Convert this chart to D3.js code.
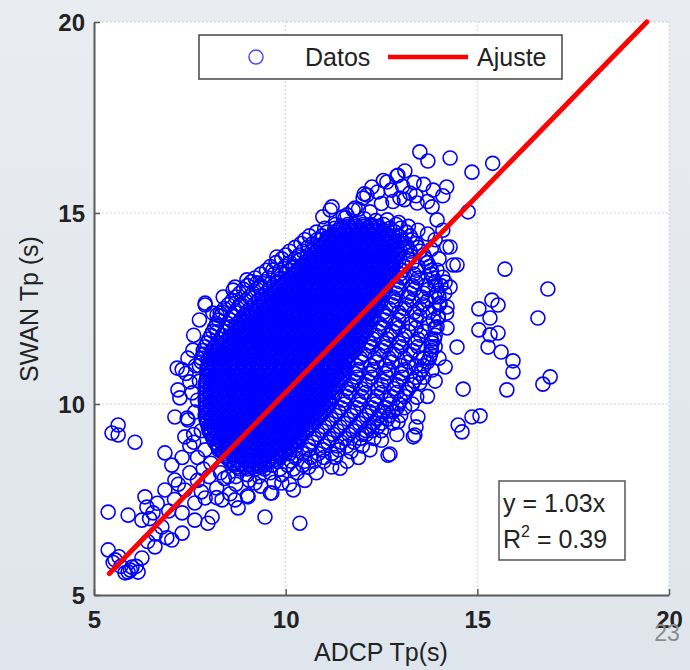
<!DOCTYPE html>
<html><head><meta charset="utf-8">
<script src="https://cdn.jsdelivr.net/npm/d3@7"></script>
<style>html,body{margin:0;padding:0;background:#e4e8ed;} svg{display:block;}</style>
</head><body>
<svg id="c" width="690" height="670"></svg>
<script>
// ---- data ----
const xTicks = [5, 10, 15, 20];
const yTicks = [5, 10, 15, 20];
const pendiente = 1.03;            // y = 1.03x
const ajusteX = [5.4, 19.42];      // extent of fitted line
const r2 = 0.39;

// dense core: each row = [SWAN Tp, ADCP Tp values...]
const nucleo = [
[14.7, 11.3, 11.62, 11.8, 12.01, 12.22, 12.55, 12.88],
[14.6, 11.02, 11.28, 11.5, 11.71, 11.9, 12.12, 12.3, 12.46, 12.72, 13.0],
[14.5, 10.8, 11.08, 11.32, 11.52, 11.7, 11.93, 12.1, 12.31, 12.52, 12.85, 13.15],
[14.4, 10.62, 10.95, 11.22, 11.41, 11.6, 11.82, 12.0, 12.2, 12.41, 12.6, 12.95, 13.25],
[14.3, 10.5, 10.82, 11.12, 11.3, 11.51, 11.72, 11.9, 12.1, 12.31, 12.5, 12.72, 13.02, 13.3],
[14.2, 10.4, 10.7, 11.0, 11.21, 11.42, 11.6, 11.8, 12.02, 12.21, 12.4, 12.62, 12.83, 13.12, 13.4],
[14.1, 10.25, 10.58, 10.92, 11.1, 11.3, 11.52, 11.7, 11.91, 12.12, 12.3, 12.5, 12.71, 12.9, 13.18, 13.45],
[14.0, 10.1, 10.45, 10.8, 11.0, 11.22, 11.41, 11.6, 11.8, 12.02, 12.2, 12.42, 12.61, 12.8, 13.0, 13.25, 13.5],
[13.9, 10.0, 10.35, 10.72, 10.92, 11.1, 11.32, 11.5, 11.71, 11.9, 12.11, 12.3, 12.52, 12.7, 12.92, 13.25, 13.6],
[13.8, 9.9, 10.25, 10.62, 10.81, 11.0, 11.2, 11.42, 11.6, 11.81, 12.0, 12.2, 12.41, 12.6, 12.82, 13.2, 13.65],
[13.7, 9.75, 10.12, 10.52, 10.72, 10.9, 11.11, 11.3, 11.52, 11.7, 11.9, 12.12, 12.31, 12.5, 12.71, 12.88, 13.3, 13.7],
[13.6, 9.6, 9.98, 10.25, 10.42, 10.61, 10.8, 11.02, 11.2, 11.41, 11.6, 11.82, 12.0, 12.21, 12.4, 12.62, 12.8, 13.12, 13.45, 13.75],
[13.5, 9.5, 9.85, 10.1, 10.35, 10.52, 10.71, 10.9, 11.12, 11.3, 11.5, 11.71, 11.9, 12.1, 12.32, 12.5, 12.72, 13.05, 13.42, 13.8],
[13.4, 9.35, 9.7, 10.0, 10.22, 10.41, 10.6, 10.82, 11.0, 11.21, 11.4, 11.6, 11.82, 12.0, 12.2, 12.41, 12.62, 12.98, 13.35, 13.8],
[13.3, 9.2, 9.55, 9.88, 10.12, 10.3, 10.51, 10.7, 10.92, 11.1, 11.3, 11.52, 11.7, 11.91, 12.1, 12.3, 12.52, 12.68, 13.05, 13.45, 13.85],
[13.2, 9.1, 9.45, 9.78, 10.02, 10.2, 10.41, 10.6, 10.8, 11.02, 11.21, 11.4, 11.6, 11.81, 12.0, 12.22, 12.42, 12.62, 12.98, 13.4, 13.9],
[13.1, 9.0, 9.35, 9.68, 9.92, 10.1, 10.3, 10.51, 10.7, 10.9, 11.12, 11.3, 11.5, 11.71, 11.9, 12.1, 12.32, 12.52, 12.9, 13.3, 13.65, 13.9],
[13.0, 8.9, 9.25, 9.58, 9.82, 10.0, 10.21, 10.4, 10.6, 10.82, 11.0, 11.2, 11.42, 11.6, 11.8, 12.01, 12.2, 12.42, 12.6, 12.95, 13.35, 13.72],
[12.9, 8.8, 9.15, 9.48, 9.72, 9.9, 10.11, 10.3, 10.5, 10.71, 10.9, 11.1, 11.32, 11.5, 11.7, 11.92, 12.1, 12.31, 12.52, 12.88, 13.25, 13.6, 13.95],
[12.8, 8.7, 9.05, 9.38, 9.62, 9.8, 10.0, 10.21, 10.4, 10.6, 10.82, 11.0, 11.2, 11.41, 11.6, 11.8, 12.02, 12.2, 12.42, 12.8, 13.18, 13.55, 14.0],
[12.7, 8.6, 8.95, 9.28, 9.52, 9.7, 9.91, 10.1, 10.3, 10.52, 10.7, 10.9, 11.11, 11.3, 11.5, 11.72, 11.9, 12.1, 12.32, 12.5, 12.88, 13.3, 13.7],
[12.6, 8.5, 8.85, 9.18, 9.42, 9.6, 9.8, 10.01, 10.2, 10.41, 10.6, 10.8, 11.02, 11.2, 11.4, 11.61, 11.8, 12.0, 12.22, 12.42, 12.78, 13.15, 13.58, 14.0],
[12.5, 8.4, 8.75, 9.08, 9.32, 9.5, 9.71, 9.9, 10.1, 10.31, 10.5, 10.7, 10.92, 11.1, 11.3, 11.51, 11.7, 11.9, 12.12, 12.35, 12.7, 13.1, 13.5, 13.9],
[12.4, 8.35, 8.68, 8.98, 9.22, 9.4, 9.61, 9.8, 10.0, 10.21, 10.4, 10.6, 10.81, 11.0, 11.2, 11.42, 11.6, 11.8, 12.01, 12.2, 12.55, 12.95, 13.35, 13.75],
[12.3, 8.3, 8.6, 8.9, 9.12, 9.3, 9.5, 9.71, 9.9, 10.1, 10.32, 10.5, 10.7, 10.91, 11.1, 11.3, 11.52, 11.7, 11.9, 12.11, 12.3, 12.65, 13.05, 13.5, 13.98],
[12.2, 8.25, 8.55, 8.82, 9.02, 9.2, 9.41, 9.6, 9.8, 10.01, 10.2, 10.4, 10.6, 10.81, 11.0, 11.2, 11.41, 11.6, 11.8, 12.02, 12.22, 12.58, 12.95, 13.4, 13.85],
[12.1, 8.2, 8.5, 8.75, 8.92, 9.1, 9.3, 9.51, 9.7, 9.9, 10.11, 10.3, 10.5, 10.71, 10.9, 11.1, 11.32, 11.5, 11.7, 11.91, 12.1, 12.45, 12.85, 13.25, 13.7],
[12.0, 8.15, 8.45, 8.68, 8.82, 9.0, 9.2, 9.41, 9.6, 9.8, 10.0, 10.21, 10.4, 10.6, 10.81, 11.0, 11.2, 11.41, 11.6, 11.8, 12.0, 12.18, 12.55, 12.95, 13.4, 13.9],
[11.9, 8.1, 8.42, 8.72, 8.9, 9.1, 9.31, 9.5, 9.7, 9.91, 10.1, 10.3, 10.5, 10.71, 10.9, 11.1, 11.31, 11.5, 11.7, 11.9, 12.1, 12.42, 12.8, 13.2, 13.62],
[11.8, 8.05, 8.35, 8.62, 8.8, 9.0, 9.21, 9.4, 9.6, 9.8, 10.01, 10.2, 10.4, 10.61, 10.8, 11.0, 11.2, 11.41, 11.6, 11.8, 12.0, 12.35, 12.72, 13.1, 13.52, 13.9],
[11.7, 8.0, 8.3, 8.52, 8.7, 8.9, 9.11, 9.3, 9.5, 9.7, 9.91, 10.1, 10.3, 10.51, 10.7, 10.9, 11.1, 11.31, 11.5, 11.7, 11.9, 12.28, 12.65, 13.05, 13.45, 13.88],
[11.6, 7.95, 8.22, 8.42, 8.6, 8.8, 9.01, 9.2, 9.4, 9.6, 9.81, 10.0, 10.2, 10.41, 10.6, 10.8, 11.0, 11.21, 11.4, 11.6, 11.8, 12.18, 12.55, 12.95, 13.38, 13.82],
[11.5, 7.9, 8.15, 8.35, 8.52, 8.7, 8.91, 9.1, 9.3, 9.5, 9.71, 9.9, 10.1, 10.31, 10.5, 10.7, 10.9, 11.11, 11.3, 11.5, 11.7, 11.88, 12.25, 12.62, 13.02, 13.45, 13.8],
[11.4, 7.85, 8.08, 8.25, 8.42, 8.6, 8.81, 9.0, 9.2, 9.4, 9.61, 9.8, 10.0, 10.21, 10.4, 10.6, 10.8, 11.01, 11.2, 11.4, 11.6, 11.8, 12.15, 12.52, 12.9, 13.32, 13.8],
[11.3, 7.85, 8.12, 8.32, 8.5, 8.71, 8.9, 9.1, 9.3, 9.51, 9.7, 9.9, 10.11, 10.3, 10.5, 10.7, 10.91, 11.1, 11.3, 11.5, 11.7, 12.05, 12.42, 12.82, 13.25, 13.78],
[11.2, 7.8, 8.05, 8.22, 8.4, 8.61, 8.8, 9.0, 9.2, 9.41, 9.6, 9.8, 10.01, 10.2, 10.4, 10.6, 10.81, 11.0, 11.2, 11.4, 11.6, 11.95, 12.32, 12.7, 13.1, 13.5, 13.75],
[11.1, 7.8, 8.02, 8.2, 8.4, 8.6, 8.8, 9.01, 9.2, 9.4, 9.61, 9.8, 10.0, 10.2, 10.41, 10.6, 10.8, 11.01, 11.2, 11.4, 11.62, 11.98, 12.38, 12.78, 13.2, 13.7],
[11.0, 7.75, 7.98, 8.12, 8.3, 8.5, 8.71, 8.9, 9.1, 9.3, 9.51, 9.7, 9.9, 10.1, 10.31, 10.5, 10.7, 10.9, 11.11, 11.3, 11.5, 11.85, 12.22, 12.6, 13.0, 13.4, 13.6],
[10.9, 7.95, 8.1, 8.3, 8.51, 8.7, 8.9, 9.1, 9.31, 9.5, 9.7, 9.9, 10.11, 10.3, 10.5, 10.7, 10.91, 11.1, 11.3, 11.5, 11.9, 12.3, 12.7, 13.12, 13.55],
[10.8, 7.98, 8.2, 8.4, 8.61, 8.8, 9.0, 9.2, 9.41, 9.6, 9.8, 10.0, 10.21, 10.4, 10.6, 10.8, 11.01, 11.2, 11.4, 11.55, 11.82, 12.2, 12.6, 13.02, 13.5],
[10.7, 7.95, 8.1, 8.3, 8.5, 8.71, 8.9, 9.1, 9.3, 9.51, 9.7, 9.9, 10.1, 10.31, 10.5, 10.7, 10.9, 11.11, 11.3, 11.5, 11.85, 12.25, 12.65, 13.05, 13.4],
[10.6, 7.92, 8.2, 8.4, 8.6, 8.81, 9.0, 9.2, 9.4, 9.61, 9.8, 10.0, 10.2, 10.41, 10.6, 10.8, 11.0, 11.21, 11.42, 11.78, 12.15, 12.55, 12.95, 13.35],
[10.5, 7.9, 8.1, 8.3, 8.5, 8.7, 8.91, 9.1, 9.3, 9.5, 9.71, 9.9, 10.1, 10.3, 10.51, 10.7, 10.9, 11.1, 11.32, 11.7, 12.08, 12.5, 12.9, 13.3],
[10.4, 7.92, 8.2, 8.4, 8.6, 8.8, 9.01, 9.2, 9.4, 9.6, 9.81, 10.0, 10.2, 10.4, 10.61, 10.8, 11.0, 11.22, 11.6, 11.98, 12.4, 12.82, 13.2],
[10.3, 7.9, 8.1, 8.3, 8.5, 8.7, 8.9, 9.11, 9.3, 9.5, 9.7, 9.91, 10.1, 10.3, 10.5, 10.71, 10.9, 11.12, 11.3, 11.68, 12.08, 12.5, 12.9, 13.15],
[10.2, 7.92, 8.2, 8.4, 8.6, 8.8, 9.0, 9.21, 9.4, 9.6, 9.8, 10.01, 10.2, 10.4, 10.6, 10.81, 11.0, 11.22, 11.58, 11.98, 12.38, 12.75, 13.1],
[10.1, 7.9, 8.1, 8.3, 8.5, 8.7, 8.9, 9.1, 9.31, 9.5, 9.7, 9.9, 10.11, 10.3, 10.5, 10.7, 10.91, 11.12, 11.5, 11.9, 12.3, 12.68, 13.0],
[10.0, 7.92, 8.2, 8.4, 8.6, 8.8, 9.0, 9.2, 9.41, 9.6, 9.8, 10.0, 10.21, 10.4, 10.6, 10.8, 11.0, 11.15, 11.55, 11.95, 12.35, 12.72, 12.95],
[9.9, 7.9, 8.1, 8.3, 8.5, 8.7, 8.9, 9.1, 9.3, 9.51, 9.7, 9.9, 10.1, 10.31, 10.5, 10.7, 10.9, 11.08, 11.45, 11.85, 12.25, 12.62, 12.9],
[9.8, 7.92, 8.2, 8.4, 8.6, 8.8, 9.0, 9.2, 9.4, 9.61, 9.8, 10.0, 10.2, 10.41, 10.6, 10.8, 11.0, 11.38, 11.78, 12.18, 12.55, 12.8],
[9.7, 7.9, 8.1, 8.3, 8.5, 8.7, 8.9, 9.1, 9.3, 9.5, 9.71, 9.9, 10.1, 10.3, 10.51, 10.7, 10.92, 11.3, 11.7, 12.1, 12.45, 12.7],
[9.6, 7.92, 8.2, 8.4, 8.6, 8.8, 9.0, 9.2, 9.4, 9.6, 9.81, 10.0, 10.2, 10.4, 10.6, 10.82, 11.2, 11.62, 12.0, 12.38, 12.65],
[9.5, 7.95, 8.12, 8.3, 8.5, 8.7, 8.9, 9.1, 9.3, 9.5, 9.7, 9.91, 10.1, 10.3, 10.5, 10.75, 11.12, 11.52, 11.92, 12.3, 12.5],
[9.4, 7.98, 8.2, 8.4, 8.6, 8.8, 9.0, 9.2, 9.4, 9.6, 9.8, 10.01, 10.2, 10.4, 10.62, 11.02, 11.42, 11.82, 12.18, 12.4],
[9.3, 8.0, 8.15, 8.3, 8.5, 8.7, 8.9, 9.1, 9.3, 9.5, 9.7, 9.9, 10.11, 10.3, 10.55, 10.95, 11.35, 11.75, 12.1, 12.25],
[9.2, 8.05, 8.22, 8.4, 8.6, 8.8, 9.0, 9.2, 9.4, 9.6, 9.8, 10.0, 10.2, 10.45, 10.85, 11.25, 11.65, 12.0, 12.1],
[9.1, 8.1, 8.3, 8.5, 8.7, 8.9, 9.1, 9.3, 9.5, 9.7, 9.9, 10.1, 10.35, 10.75, 11.15, 11.55, 11.95],
[9.0, 8.15, 8.4, 8.6, 8.8, 9.0, 9.2, 9.4, 9.6, 9.8, 10.0, 10.2, 10.32, 10.7, 11.1, 11.45, 11.78],
[8.9, 8.22, 8.5, 8.7, 8.9, 9.1, 9.3, 9.5, 9.7, 9.9, 10.1, 10.28, 10.6, 11.0, 11.35, 11.6],
[8.8, 8.25, 8.45, 8.65, 8.85, 9.05, 9.25, 9.45, 9.65, 9.85, 10.05, 10.22, 10.6, 10.98, 11.38],
[8.7, 8.38, 8.6, 8.8, 9.0, 9.2, 9.4, 9.6, 9.8, 10.0, 10.1, 10.45, 10.85, 11.2],
[8.6, 8.45, 8.65, 8.85, 9.05, 9.25, 9.45, 9.65, 9.85, 10.25, 10.65, 11.0],
[8.5, 8.55, 8.75, 8.95, 9.15, 9.35, 9.55, 9.78, 10.15, 10.5, 10.75],
[8.4, 8.65, 8.85, 9.05, 9.25, 9.45, 9.65, 10.05, 10.45],
[8.3, 8.8, 9.0, 9.2, 9.45, 9.85, 10.2]
];

// second, interleaved layer of the dense core (same format)
const nucleo2 = [
[14.65, 11.45, 11.65, 11.85, 12.05, 12.25, 12.42],
[14.55, 11.35, 11.55, 11.75, 11.95, 12.15, 12.35, 12.55],
[14.45, 11.25, 11.45, 11.65, 11.85, 12.05, 12.25, 12.45, 12.65],
[14.35, 11.15, 11.35, 11.55, 11.75, 11.95, 12.15, 12.35, 12.55, 12.75],
[14.25, 11.05, 11.25, 11.45, 11.65, 11.85, 12.05, 12.25, 12.45, 12.65, 12.85],
[14.15, 10.95, 11.15, 11.35, 11.55, 11.75, 11.95, 12.15, 12.35, 12.55, 12.75, 12.92],
[14.05, 10.85, 11.05, 11.25, 11.45, 11.65, 11.85, 12.05, 12.25, 12.45, 12.65, 12.85],
[13.95, 10.75, 10.95, 11.15, 11.35, 11.55, 11.75, 11.95, 12.15, 12.35, 12.55, 12.75, 12.95],
[13.85, 10.65, 10.85, 11.05, 11.25, 11.45, 11.65, 11.85, 12.05, 12.25, 12.45, 12.65, 12.85],
[13.75, 10.55, 10.75, 10.95, 11.15, 11.35, 11.55, 11.75, 11.95, 12.15, 12.35, 12.55, 12.75],
[13.65, 10.45, 10.65, 10.85, 11.05, 11.25, 11.45, 11.65, 11.85, 12.05, 12.25, 12.45, 12.65, 12.8],
[13.55, 10.35, 10.55, 10.75, 10.95, 11.15, 11.35, 11.55, 11.75, 11.95, 12.15, 12.35, 12.55, 12.75],
[13.45, 10.25, 10.45, 10.65, 10.85, 11.05, 11.25, 11.45, 11.65, 11.85, 12.05, 12.25, 12.45, 12.65],
[13.35, 10.15, 10.35, 10.55, 10.75, 10.95, 11.15, 11.35, 11.55, 11.75, 11.95, 12.15, 12.35, 12.55],
[13.25, 10.05, 10.25, 10.45, 10.65, 10.85, 11.05, 11.25, 11.45, 11.65, 11.85, 12.05, 12.25, 12.45, 12.62],
[13.15, 9.95, 10.15, 10.35, 10.55, 10.75, 10.95, 11.15, 11.35, 11.55, 11.75, 11.95, 12.15, 12.35, 12.55],
[13.05, 9.85, 10.05, 10.25, 10.45, 10.65, 10.85, 11.05, 11.25, 11.45, 11.65, 11.85, 12.05, 12.25, 12.45],
[12.95, 9.75, 9.95, 10.15, 10.35, 10.55, 10.75, 10.95, 11.15, 11.35, 11.55, 11.75, 11.95, 12.15, 12.35, 12.55],
[12.85, 9.65, 9.85, 10.05, 10.25, 10.45, 10.65, 10.85, 11.05, 11.25, 11.45, 11.65, 11.85, 12.05, 12.25, 12.45],
[12.75, 9.55, 9.75, 9.95, 10.15, 10.35, 10.55, 10.75, 10.95, 11.15, 11.35, 11.55, 11.75, 11.95, 12.15, 12.35],
[12.65, 9.45, 9.65, 9.85, 10.05, 10.25, 10.45, 10.65, 10.85, 11.05, 11.25, 11.45, 11.65, 11.85, 12.05, 12.25, 12.42],
[12.55, 9.35, 9.55, 9.75, 9.95, 10.15, 10.35, 10.55, 10.75, 10.95, 11.15, 11.35, 11.55, 11.75, 11.95, 12.15, 12.35],
[12.45, 9.25, 9.45, 9.65, 9.85, 10.05, 10.25, 10.45, 10.65, 10.85, 11.05, 11.25, 11.45, 11.65, 11.85, 12.05, 12.25],
[12.35, 9.15, 9.35, 9.55, 9.75, 9.95, 10.15, 10.35, 10.55, 10.75, 10.95, 11.15, 11.35, 11.55, 11.75, 11.95, 12.15],
[12.25, 9.05, 9.25, 9.45, 9.65, 9.85, 10.05, 10.25, 10.45, 10.65, 10.85, 11.05, 11.25, 11.45, 11.65, 11.85, 12.05, 12.22],
[12.15, 8.95, 9.15, 9.35, 9.55, 9.75, 9.95, 10.15, 10.35, 10.55, 10.75, 10.95, 11.15, 11.35, 11.55, 11.75, 11.95, 12.15],
[12.05, 8.85, 9.05, 9.25, 9.45, 9.65, 9.85, 10.05, 10.25, 10.45, 10.65, 10.85, 11.05, 11.25, 11.45, 11.65, 11.85, 12.05],
[11.95, 8.75, 8.95, 9.15, 9.35, 9.55, 9.75, 9.95, 10.15, 10.35, 10.55, 10.75, 10.95, 11.15, 11.35, 11.55, 11.75, 11.95],
[11.85, 8.65, 8.85, 9.05, 9.25, 9.45, 9.65, 9.85, 10.05, 10.25, 10.45, 10.65, 10.85, 11.05, 11.25, 11.45, 11.65, 11.85, 12.02],
[11.75, 8.55, 8.75, 8.95, 9.15, 9.35, 9.55, 9.75, 9.95, 10.15, 10.35, 10.55, 10.75, 10.95, 11.15, 11.35, 11.55, 11.75, 11.95],
[11.65, 8.45, 8.65, 8.85, 9.05, 9.25, 9.45, 9.65, 9.85, 10.05, 10.25, 10.45, 10.65, 10.85, 11.05, 11.25, 11.45, 11.65, 11.85],
[11.55, 8.35, 8.55, 8.75, 8.95, 9.15, 9.35, 9.55, 9.75, 9.95, 10.15, 10.35, 10.55, 10.75, 10.95, 11.15, 11.35, 11.55, 11.75],
[11.45, 8.25, 8.45, 8.65, 8.85, 9.05, 9.25, 9.45, 9.65, 9.85, 10.05, 10.25, 10.45, 10.65, 10.85, 11.05, 11.25, 11.45, 11.65, 11.82],
[11.35, 8.15, 8.35, 8.55, 8.75, 8.95, 9.15, 9.35, 9.55, 9.75, 9.95, 10.15, 10.35, 10.55, 10.75, 10.95, 11.15, 11.35, 11.55, 11.75],
[11.25, 8.05, 8.25, 8.45, 8.65, 8.85, 9.05, 9.25, 9.45, 9.65, 9.85, 10.05, 10.25, 10.45, 10.65, 10.85, 11.05, 11.25, 11.45, 11.65],
[11.15, 7.98, 8.15, 8.35, 8.55, 8.75, 8.95, 9.15, 9.35, 9.55, 9.75, 9.95, 10.15, 10.35, 10.55, 10.75, 10.95, 11.15, 11.35, 11.55],
[11.05, 8.05, 8.25, 8.45, 8.65, 8.85, 9.05, 9.25, 9.45, 9.65, 9.85, 10.05, 10.25, 10.45, 10.65, 10.85, 11.05, 11.25, 11.45, 11.62],
[10.95, 7.95, 8.15, 8.35, 8.55, 8.75, 8.95, 9.15, 9.35, 9.55, 9.75, 9.95, 10.15, 10.35, 10.55, 10.75, 10.95, 11.15, 11.35, 11.55],
[10.85, 8.05, 8.25, 8.45, 8.65, 8.85, 9.05, 9.25, 9.45, 9.65, 9.85, 10.05, 10.25, 10.45, 10.65, 10.85, 11.05, 11.25, 11.45],
[10.75, 7.95, 8.15, 8.35, 8.55, 8.75, 8.95, 9.15, 9.35, 9.55, 9.75, 9.95, 10.15, 10.35, 10.55, 10.75, 10.95, 11.15, 11.35],
[10.65, 8.05, 8.25, 8.45, 8.65, 8.85, 9.05, 9.25, 9.45, 9.65, 9.85, 10.05, 10.25, 10.45, 10.65, 10.85, 11.05, 11.25, 11.42],
[10.55, 7.95, 8.15, 8.35, 8.55, 8.75, 8.95, 9.15, 9.35, 9.55, 9.75, 9.95, 10.15, 10.35, 10.55, 10.75, 10.95, 11.15, 11.35],
[10.45, 8.05, 8.25, 8.45, 8.65, 8.85, 9.05, 9.25, 9.45, 9.65, 9.85, 10.05, 10.25, 10.45, 10.65, 10.85, 11.05, 11.25],
[10.35, 7.95, 8.15, 8.35, 8.55, 8.75, 8.95, 9.15, 9.35, 9.55, 9.75, 9.95, 10.15, 10.35, 10.55, 10.75, 10.95, 11.15],
[10.25, 8.05, 8.25, 8.45, 8.65, 8.85, 9.05, 9.25, 9.45, 9.65, 9.85, 10.05, 10.25, 10.45, 10.65, 10.85, 11.05],
[10.15, 7.95, 8.15, 8.35, 8.55, 8.75, 8.95, 9.15, 9.35, 9.55, 9.75, 9.95, 10.15, 10.35, 10.55, 10.75, 10.95, 11.12],
[10.05, 8.05, 8.25, 8.45, 8.65, 8.85, 9.05, 9.25, 9.45, 9.65, 9.85, 10.05, 10.25, 10.45, 10.65, 10.85, 11.05],
[9.95, 7.95, 8.15, 8.35, 8.55, 8.75, 8.95, 9.15, 9.35, 9.55, 9.75, 9.95, 10.15, 10.35, 10.55, 10.75, 10.95],
[9.85, 8.05, 8.25, 8.45, 8.65, 8.85, 9.05, 9.25, 9.45, 9.65, 9.85, 10.05, 10.25, 10.45, 10.65, 10.85],
[9.75, 7.95, 8.15, 8.35, 8.55, 8.75, 8.95, 9.15, 9.35, 9.55, 9.75, 9.95, 10.15, 10.35, 10.55, 10.75, 10.9],
[9.65, 8.05, 8.25, 8.45, 8.65, 8.85, 9.05, 9.25, 9.45, 9.65, 9.85, 10.05, 10.25, 10.45, 10.65, 10.82],
[9.55, 7.95, 8.15, 8.35, 8.55, 8.75, 8.95, 9.15, 9.35, 9.55, 9.75, 9.95, 10.15, 10.35, 10.55, 10.72],
[9.45, 8.05, 8.25, 8.45, 8.65, 8.85, 9.05, 9.25, 9.45, 9.65, 9.85, 10.05, 10.25, 10.45, 10.65],
[9.35, 8.02, 8.15, 8.35, 8.55, 8.75, 8.95, 9.15, 9.35, 9.55, 9.75, 9.95, 10.15, 10.35, 10.55],
[9.25, 8.05, 8.25, 8.45, 8.65, 8.85, 9.05, 9.25, 9.45, 9.65, 9.85, 10.05, 10.25, 10.45],
[9.15, 8.15, 8.35, 8.55, 8.75, 8.95, 9.15, 9.35, 9.55, 9.75, 9.95, 10.15, 10.38],
[9.05, 8.25, 8.45, 8.65, 8.85, 9.05, 9.25, 9.45, 9.65, 9.85, 10.05, 10.25],
[8.95, 8.2, 8.35, 8.55, 8.75, 8.95, 9.15, 9.35, 9.55, 9.75, 9.95, 10.15],
[8.85, 8.25, 8.45, 8.65, 8.85, 9.05, 9.25, 9.45, 9.65, 9.85, 10.05],
[8.75, 8.35, 8.55, 8.75, 8.95, 9.15, 9.35, 9.55, 9.75, 9.95],
[8.65, 8.45, 8.65, 8.85, 9.05, 9.25, 9.45, 9.65, 9.85],
[8.55, 8.55, 8.75, 8.95, 9.15, 9.35, 9.55, 9.72],
[8.45, 8.65, 8.85, 9.05, 9.25, 9.45],
[8.35, 8.75, 8.95, 9.15, 9.35]
];

// scattered points around the core [ADCP Tp, SWAN Tp]
const halo = [
[7.58,11.41],[7.9,12.59],[8.21,12.33],[8.21,11.89],[8.37,12.8],[8.68,13.06],[8.99,13.25],[9.25,13.17],
[8.81,12.59],[8.55,12.02],[9.77,13.85],[9.67,13.51],[10.19,13.56],[10.84,14.11],[11.08,14.35],[10.97,14.9],
[11.21,15.16],[11.55,14.87],[11.76,15.08],[12.02,15.39],[12.25,15.68],[12.2,15.03],[11.34,14.03],[10.56,13.85],
[9.33,13.06],[8.1,12.38],[7.9,12.64],[8.29,12.38],[8.63,12.98],[10.19,13.59],[10.9,14.29],[11.16,15.08],[11.5,14.9],
[7.45,11.2],[7.3,10.9],[7.6,11.8],[7.75,12.2],[7.17,10.94],[7.5,10.58],[7.24,10.16],[7.11,9.66],[7.43,9.63],
[7.56,10.29],[7.19,10.37],[7.63,9.79],[7.7,10.1],[7.75,10.6],[7.65,11.0],[7.4,10.8],[7.8,9.3],[7.6,9.2],[7.37,9.14],[7.45,9.58],
[6.85,8.72],[7.03,8.4],[7.11,8.01],[6.85,7.75],[6.33,7.57],[6.38,7.3],[6.25,6.96],[6.54,7.15],[6.77,6.78],[7.03,6.44],
[7.3,6.62],[6.59,6.26],[6.25,5.97],[5.99,5.73],[5.81,5.58],[7.63,6.96],[7.97,6.88],[8.08,7.04],[7.3,7.15],[7.63,7.41],
[7.9,7.54],[7.37,7.75],[8.34,7.49],[8.76,7.28],[8.68,7.49],[9.02,7.57],[9.2,7.93],[9.9,7.93],
[6.45,7.0],[6.65,7.4],[6.95,7.2],[7.1,7.5],[7.2,7.9],[7.5,8.2],[7.7,8.0],[7.85,8.3],[8.0,8.1],[8.2,7.8],[7.8,7.7],
[6.9,6.5],[6.6,6.6],[6.4,6.4],[5.5,5.85],[5.7,5.75],[5.95,5.65],[6.1,5.75],[5.65,6.0],
[7.3,8.6],[7.5,8.9],[7.7,8.6],[7.6,9.0],[7.9,8.8],[8.05,8.45],[8.3,8.2],[8.5,8.1],[8.7,8.1],[9.0,8.15],[9.3,8.1],
[9.6,8.2],[9.9,8.15],[10.3,8.2],[10.6,8.35],[11.0,8.5],[11.42,8.32],[11.3,8.6],[11.7,8.75],[12.0,8.9],[12.3,9.1],
[12.72,8.69],[12.5,9.3],[12.8,9.5],[8.4,8.05],[8.7,7.9],[9.05,8.0],[9.35,7.85],[9.7,7.95],[10.2,7.75],[9.0,7.6],
[8.55,7.65],[8.2,7.55],[10.1,7.9],[10.5,8.0],[10.8,8.2],[11.2,8.35],[11.6,8.5],[11.9,8.6],[12.2,8.8],[12.5,9.05],
[12.9,9.2],[13.0,9.7],[13.3,10.0],[13.6,10.7],[13.8,11.7],[14.0,11.2],[13.4,9.4],[13.9,10.6],
[14.2,14.11],[14.47,13.64],[14.16,13.19],[14.21,12.54],[13.98,12.25],[14.21,11.99],[14.16,10.97],[13.82,10.89],
[13.5,10.55],[13.42,10.18],[12.93,9.53],[13.33,9.14],[13.37,9.19],[14.1,14.55],[14.29,14.11],[14.37,13.64],
[14.1,13.32],[14.29,13.06],[14.03,12.64],[14.2,12.38],[13.95,12.02],[13.95,14.82],[13.2,10.4],[13.6,11.2],
[13.9,11.5],[13.7,10.2],[13.1,9.9],
[13.11,16.1],[12.9,15.97],[12.55,15.85],[12.05,15.5],[12.4,15.55],[12.75,15.6],[13.05,15.7],[13.35,15.8],
[13.6,15.75],[13.85,15.6],[14.1,15.45],[13.7,15.3],[13.4,15.45],[13.1,15.35],[12.8,15.3],[12.5,15.25],[11.9,15.1],
[11.6,14.95],[12.05,14.85],[12.35,14.8],[12.65,14.82],[12.95,14.75],[13.2,14.65],[13.45,14.55],[13.7,14.45],
[13.9,14.3],[13.8,14.05],[14.0,13.8],[13.95,13.5],[14.05,13.1],[13.9,12.8],[14.15,12.9],
[12.93,15.99],[12.64,15.81],[12.12,15.47],[11.81,15.13],[13.82,15.16],[13.43,15.26],[13.24,15.52],[12.98,15.39]
];

// isolated points far from the cloud
const atipicos = [
[5.37,6.18],[5.55,5.92],[5.89,5.6],[6.15,5.6],[5.37,7.17],[5.89,7.09],[5.63,9.45],[5.47,9.24],[6.07,9.0],[5.63,9.19],
[9.46,7.04],[9.64,7.67],[10.37,6.88],[9.6,7.67],
[13.5,16.6],[13.71,16.36],[14.29,16.44],[14.86,16.07],[15.4,16.3],[14.76,15.03],[14.2,15.68],
[15.72,13.53],[16.84,13.01],[16.58,12.25],[15.38,12.72],[15.54,12.59],[15.04,12.49],[15.33,12.25],[15.04,11.94],
[15.33,11.81],[15.54,11.86],[15.28,11.49],[15.62,11.36],[15.93,11.13],[15.93,10.84],[16.9,10.71],[16.71,10.52],
[15.77,10.37],[14.63,10.39],[14.47,11.49],[15.07,9.69],[14.86,9.66],[14.5,9.45],[14.6,9.27],[13.45,9.66],[12.67,8.66]
];

// ---- drawing ----
const W = 690, H = 670;
const FONT = "'Liberation Sans', Arial, Helvetica, sans-serif";
const svg = d3.select('#c');
const defs = svg.append('defs');
const gr = defs.append('linearGradient').attr('id', 'bg').attr('x1', 0).attr('y1', 0).attr('x2', 0).attr('y2', 1);
gr.append('stop').attr('offset', '0%').attr('stop-color', '#e9ecf0');
gr.append('stop').attr('offset', '100%').attr('stop-color', '#dfe5ec');
defs.append('filter').attr('id', 'soft').attr('x', '-5%').attr('y', '-5%').attr('width', '110%').attr('height', '110%')
  .append('feGaussianBlur').attr('stdDeviation', 0.75);
svg.append('rect').attr('width', W).attr('height', H).attr('fill', 'url(#bg)');

const x = d3.scaleLinear().domain([5, 20]).range([94, 669]);
const y = d3.scaleLinear().domain([5, 20]).range([595, 22]);

svg.append('rect').attr('x', x(5)).attr('y', y(20))
  .attr('width', x(20) - x(5)).attr('height', y(5) - y(20)).attr('fill', '#ffffff');

// dotted grid
const grid = svg.append('g').attr('stroke', '#c4c4c4').attr('stroke-width', 1).attr('stroke-dasharray', '1.5,2.5');
grid.selectAll('line.v').data(xTicks.slice(1)).join('line').attr('class', 'v')
  .attr('x1', d => x(d)).attr('x2', d => x(d)).attr('y1', y(5)).attr('y2', y(20));
grid.selectAll('line.h').data(yTicks.slice(1)).join('line').attr('class', 'h')
  .attr('y1', d => y(d)).attr('y2', d => y(d)).attr('x1', x(5)).attr('x2', x(20));

// points
const pts = [];
[nucleo, nucleo2].forEach(rows => rows.forEach(r => { for (let i = 1; i < r.length; i++) pts.push([r[i], r[0]]); }));
halo.forEach(p => pts.push(p));
atipicos.forEach(p => pts.push(p));
svg.append('g').attr('filter', 'url(#soft)').selectAll('circle').data(pts).join('circle')
  .attr('cx', d => x(d[0])).attr('cy', d => y(d[1])).attr('r', 7)
  .attr('fill', 'none').attr('stroke', '#0000ff').attr('stroke-width', 1.6);

// fit line
svg.append('line')
  .attr('x1', x(ajusteX[0])).attr('y1', y(pendiente * ajusteX[0]))
  .attr('x2', x(ajusteX[1])).attr('y2', y(pendiente * ajusteX[1]))
  .attr('stroke', '#ff0000').attr('stroke-width', 5).attr('stroke-linecap', 'round');

// axes
const axX = svg.append('g').attr('transform', `translate(0,${y(5)})`)
  .call(d3.axisBottom(x).tickValues(xTicks).tickFormat(d3.format('d')).tickSizeInner(-6).tickSizeOuter(0).tickPadding(16));
const axY = svg.append('g').attr('transform', `translate(${x(5)},0)`)
  .call(d3.axisLeft(y).tickValues(yTicks).tickFormat(d3.format('d')).tickSizeInner(-6).tickSizeOuter(0).tickPadding(9));
[axX, axY].forEach(a => {
  a.select('.domain').attr('stroke', '#5a5a5a').attr('stroke-width', 2);
  a.selectAll('.tick line').attr('stroke', '#5a5a5a').attr('stroke-width', 1.5);
  a.selectAll('.tick text').attr('fill', '#222').style('font-family', FONT)
    .style('font-size', '24px').style('font-weight', 'bold');
});
axY.selectAll('.tick text').attr('dy', '0.36em');

// axis titles
svg.append('text').attr('x', 381).attr('y', 661).attr('text-anchor', 'middle')
  .style('font-family', FONT).style('font-size', '25px').attr('fill', '#222').text('ADCP Tp(s)');
svg.append('text').attr('transform', 'translate(38,309) rotate(-90)').attr('text-anchor', 'middle')
  .style('font-family', FONT).style('font-size', '25px').attr('fill', '#222').text('SWAN Tp (s)');

// legend
const lg = svg.append('g');
lg.append('rect').attr('x', 199).attr('y', 35).attr('width', 363).attr('height', 44)
  .attr('fill', '#fff').attr('stroke', '#444').attr('stroke-width', 1.5);
lg.append('circle').attr('cx', 256).attr('cy', 57).attr('r', 7).attr('fill', 'none')
  .attr('stroke', '#4a4aff').attr('stroke-width', 1.5);
lg.append('text').attr('x', 305).attr('y', 66).style('font-family', FONT).style('font-size', '25px')
  .attr('fill', '#222').text('Datos');
lg.append('line').attr('x1', 388).attr('x2', 468).attr('y1', 57).attr('y2', 57)
  .attr('stroke', '#ff0000').attr('stroke-width', 4.5);
lg.append('text').attr('x', 477).attr('y', 66).style('font-family', FONT).style('font-size', '25px')
  .attr('fill', '#222').text('Ajuste');

// equation box
const eq = svg.append('g');
eq.append('rect').attr('x', 499).attr('y', 481).attr('width', 126).attr('height', 79)
  .attr('fill', '#fff').attr('stroke', '#555').attr('stroke-width', 1.5);
eq.append('text').attr('x', 503).attr('y', 512).style('font-family', FONT).style('font-size', '25px')
  .attr('fill', '#222').text(`y = ${pendiente.toFixed(2)}x`);
const t2 = eq.append('text').attr('x', 503).attr('y', 548).style('font-family', FONT).style('font-size', '25px').attr('fill', '#222');
t2.append('tspan').text('R');
t2.append('tspan').attr('dy', -11).style('font-size', '16px').text('2');
t2.append('tspan').attr('dy', 11).text(` = ${r2.toFixed(2)}`);

// slide number
svg.append('text').attr('x', 667).attr('y', 641).attr('text-anchor', 'middle')
  .style('font-family', FONT).style('font-size', '23px').attr('fill', '#8a8a8a').text('23');
</script>
</body></html>
